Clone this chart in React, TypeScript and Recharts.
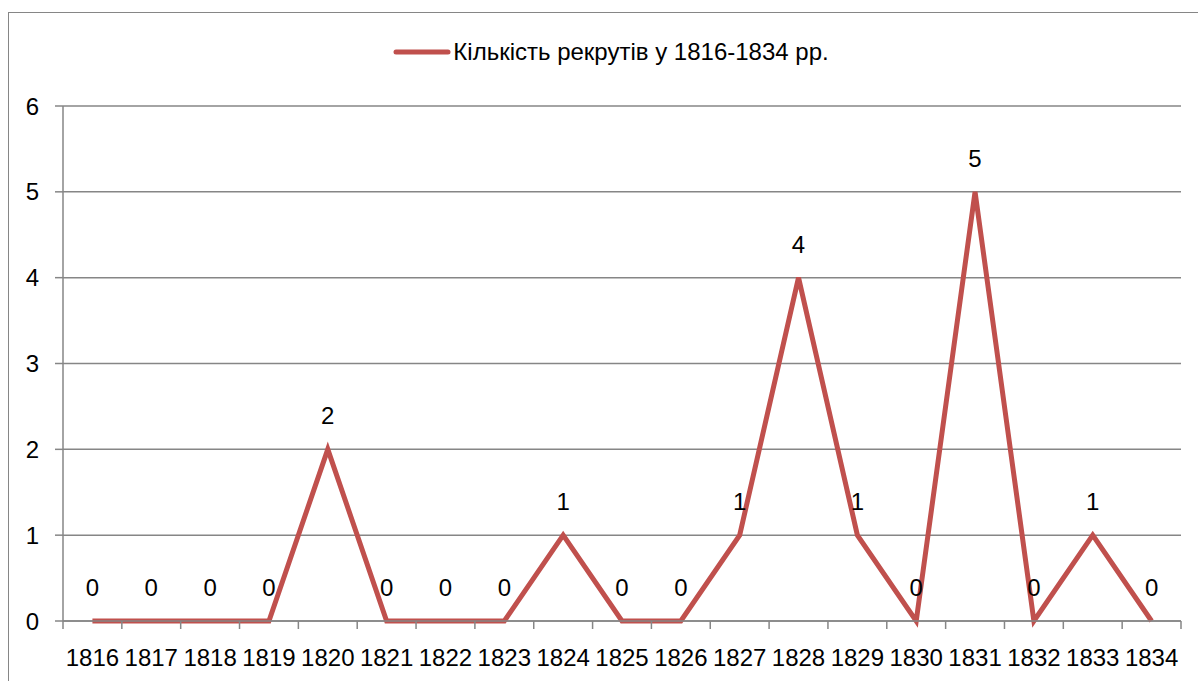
import { LineChart, Line, XAxis, YAxis, CartesianGrid, Legend, LabelList } from "recharts";

const YEARS = [
  "1816", "1817", "1818", "1819", "1820", "1821", "1822", "1823", "1824", "1825",
  "1826", "1827", "1828", "1829", "1830", "1831", "1832", "1833", "1834",
];
const RECRUITS = [0, 0, 0, 0, 2, 0, 0, 0, 1, 0, 0, 1, 4, 1, 0, 5, 0, 1, 0];
const Y_TICKS = [0, 1, 2, 3, 4, 5, 6];
const SERIES_NAME = "Кількість рекрутів у 1816-1834 рр.";

const RED = "#C0504D";
const GRAY = "#868686";
const FONT = "'Liberation Sans', Arial, sans-serif";

const data = YEARS.map((year, i) => ({ idx: i, year, value: RECRUITS[i] }));

// labels on whole numbers, tick marks on the half steps between categories
const X_TICKS: number[] = [];
for (let i = 0; i <= YEARS.length * 2; i++) X_TICKS.push(i / 2 - 0.5);

function XTick(props: any) {
  const { x, y, payload } = props;
  const v = payload.value;
  if (Number.isInteger(v)) {
    return (
      <text x={x} y={y + 45} textAnchor="middle" fontSize={24} fontFamily={FONT} fill="#000">
        {YEARS[v]}
      </text>
    );
  }
  return <line x1={x} y1={y} x2={x} y2={y + 8} stroke={GRAY} strokeWidth={1.5} />;
}

function LegendBox() {
  return (
    <div style={{ display: "flex", alignItems: "center", justifyContent: "center", fontFamily: FONT, fontSize: 24, height: 26 }}>
      <svg width={58} height={10} style={{ marginRight: 2 }}>
        <line x1={3} y1={5} x2={55} y2={5} stroke={RED} strokeWidth={5} strokeLinecap="round" />
      </svg>
      <span style={{ color: "#000" }}>{SERIES_NAME}</span>
    </div>
  );
}

export default function App() {
  return (
    <div style={{ position: "fixed", left: 0, top: 0, width: 1198, height: 681, background: "#fff" }}>
      <div
        style={{
          position: "absolute",
          left: 8,
          top: 12,
          width: 1300,
          height: 800,
          borderLeft: `1.5px solid ${GRAY}`,
          borderTop: `1.5px solid ${GRAY}`,
        }}
      />
      <LineChart width={1198} height={681} data={data} margin={{ top: 80, right: 17, bottom: 0, left: 0 }}>
        <CartesianGrid vertical={false} stroke={GRAY} strokeWidth={1.5} />
        <XAxis
          dataKey="idx"
          type="number"
          domain={[-0.5, YEARS.length - 0.5]}
          ticks={X_TICKS}
          interval={0}
          height={60}
          tickSize={0}
          tickMargin={0}
          tickLine={false}
          axisLine={{ stroke: GRAY, strokeWidth: 1.5 }}
          tick={<XTick />}
        />
        <YAxis
          domain={[0, 6]}
          ticks={Y_TICKS}
          width={63}
          tickSize={8}
          tickMargin={16}
          tickLine={{ stroke: GRAY, strokeWidth: 1.5 }}
          axisLine={{ stroke: GRAY, strokeWidth: 1.5 }}
          tick={{ fontSize: 24, fontFamily: FONT, fill: "#000" }}
        />
        <Legend
          verticalAlign="top"
          content={<LegendBox />}
          wrapperStyle={{ position: "absolute", top: 39, left: 171, width: 880 }}
        />
        <Line
          type="linear"
          dataKey="value"
          name={SERIES_NAME}
          stroke={RED}
          strokeWidth={5}
          dot={false}
          activeDot={false}
          isAnimationActive={false}
        >
          <LabelList dataKey="value" position="top" offset={25} fontSize={24} fontFamily={FONT} fill="#000" />
        </Line>
      </LineChart>
    </div>
  );
}
